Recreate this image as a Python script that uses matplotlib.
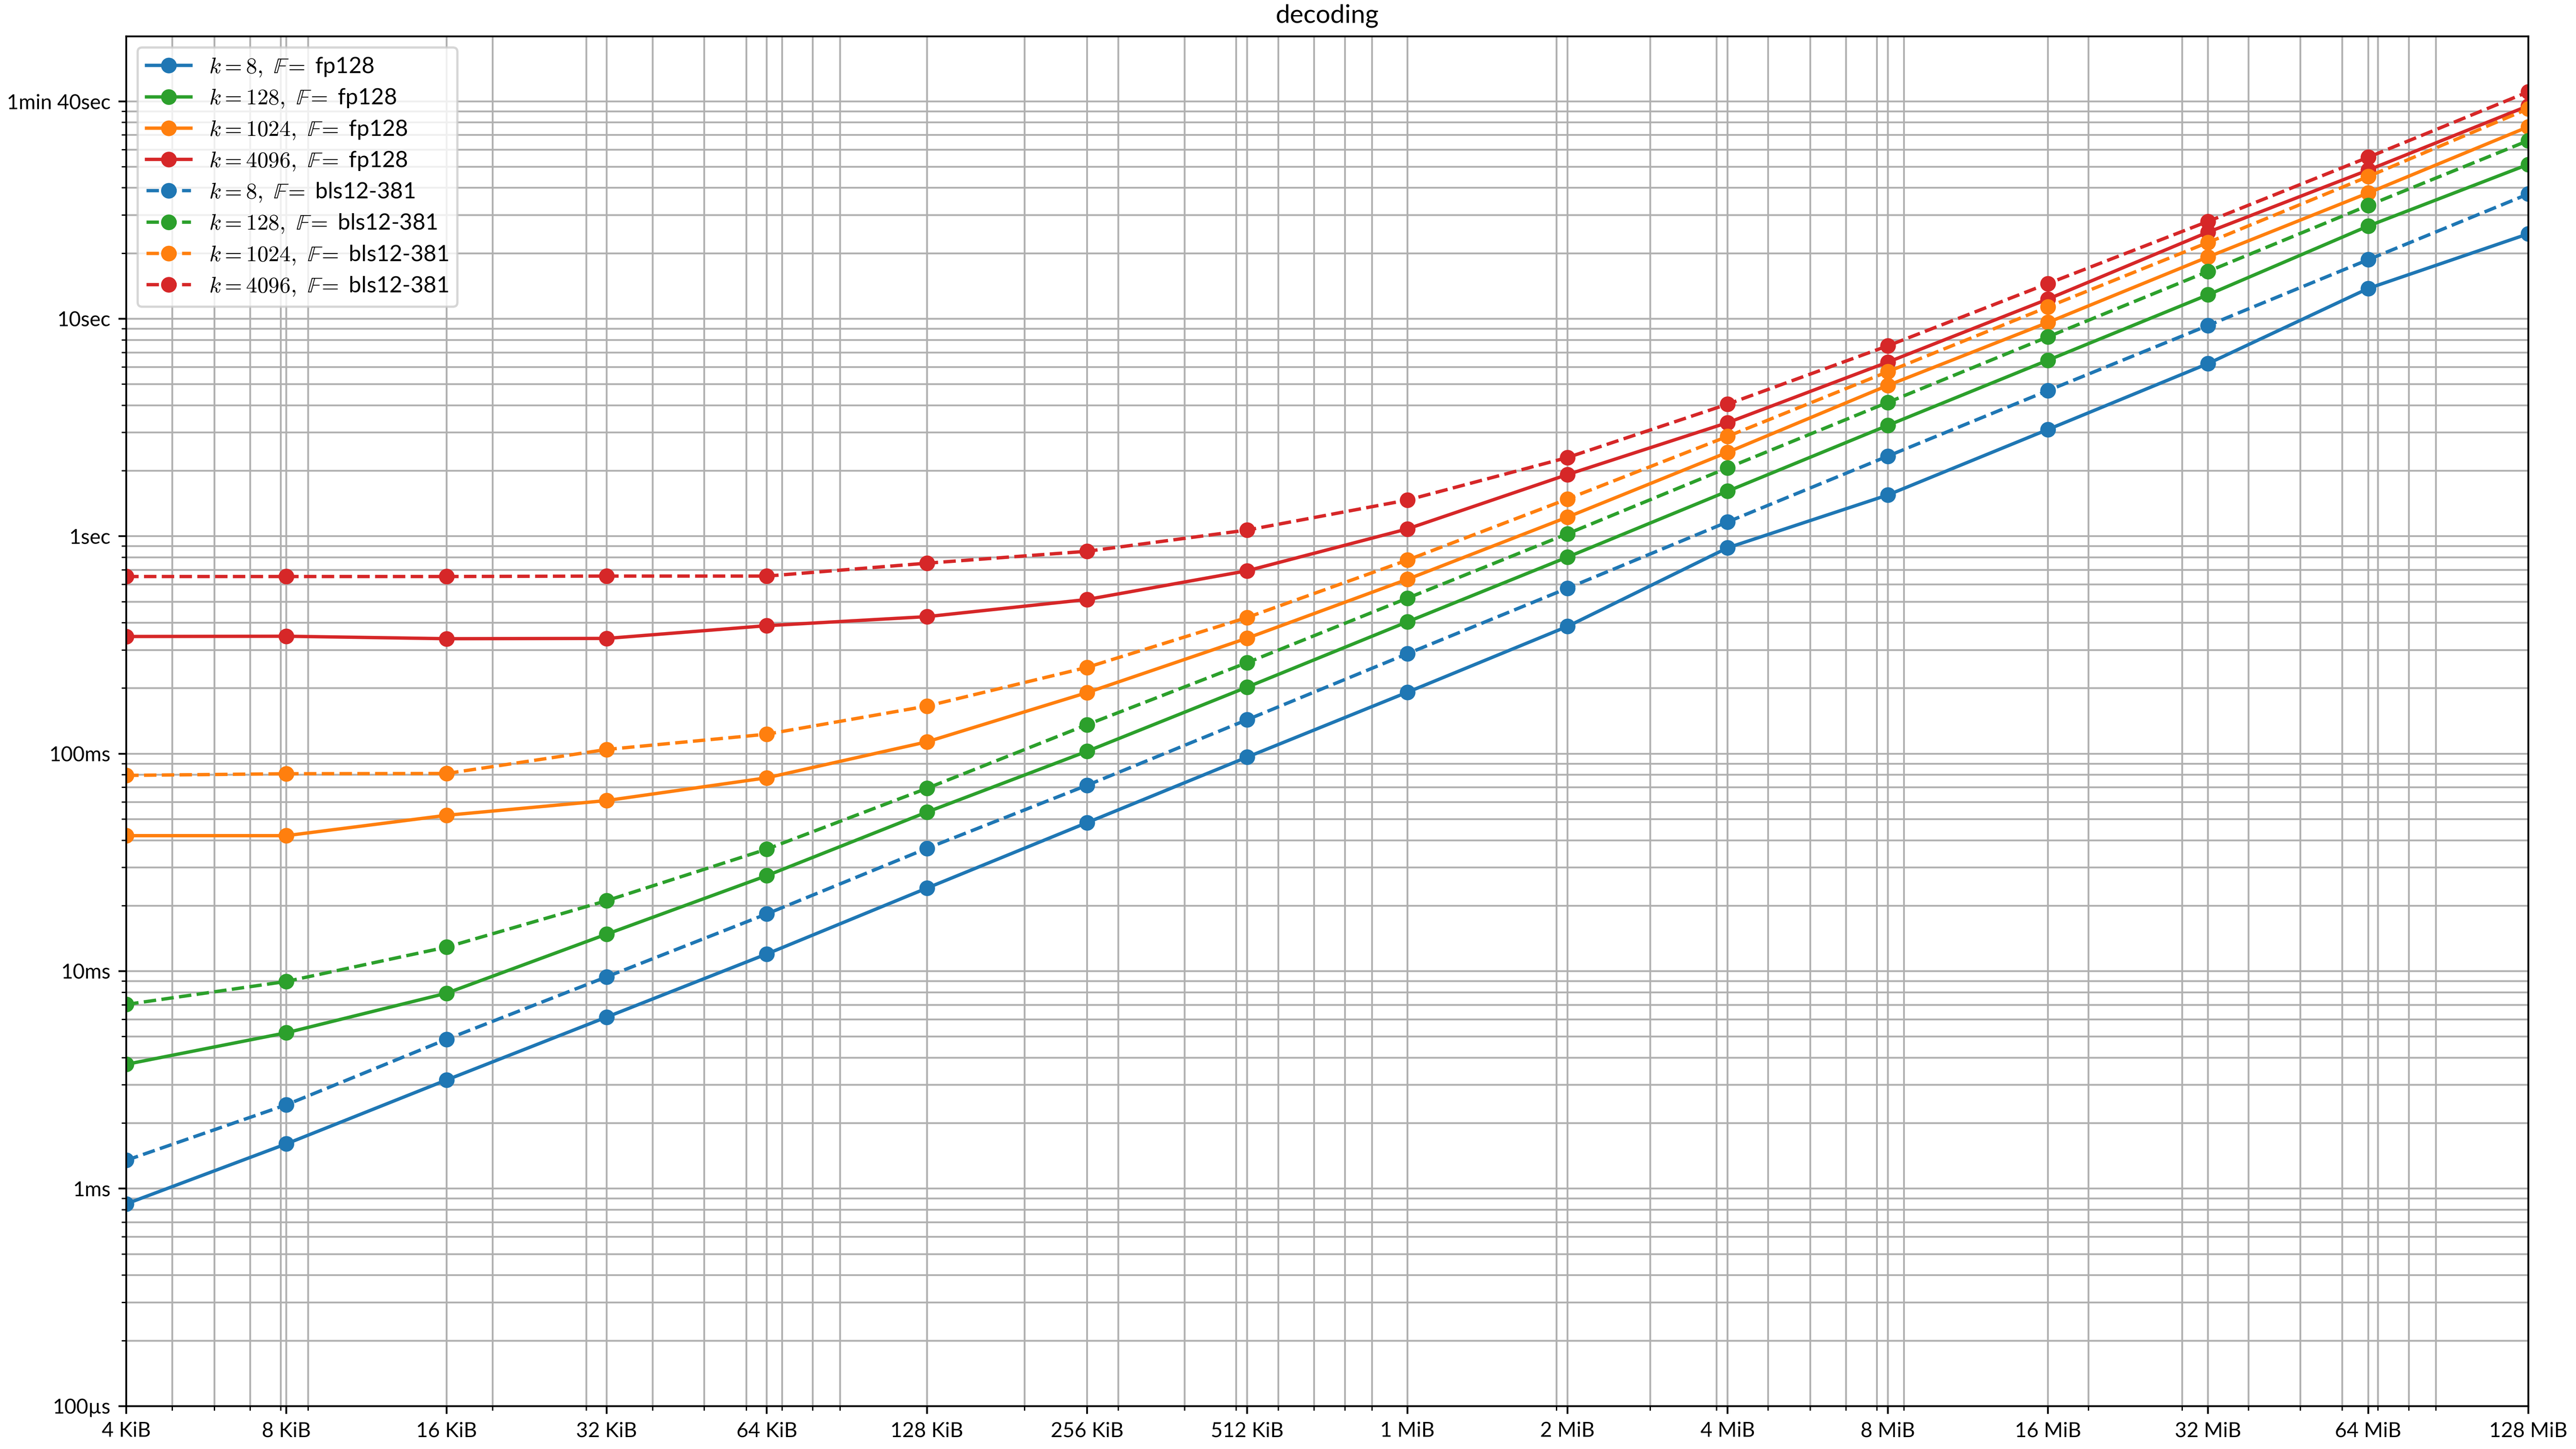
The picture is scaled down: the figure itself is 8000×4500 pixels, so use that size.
"""
decoding time vs. data size, log-log
"""
import matplotlib
matplotlib.use('Agg')
import matplotlib.pyplot as plt

plt.rcParams['font.family'] = ['Lato', 'DejaVu Sans']
plt.rcParams['mathtext.fontset'] = 'cm'
plt.rcParams['font.size'] = 10

# data sizes in bytes (4 KiB .. 128 MiB)
sizes = [4096, 8192, 16384, 32768, 65536, 131072, 262144, 524288,
         1048576, 2097152, 4194304, 8388608, 16777216, 33554432,
         67108864, 134217728]
size_labels = ['4 KiB', '8 KiB', '16 KiB', '32 KiB', '64 KiB', '128 KiB',
               '256 KiB', '512 KiB', '1 MiB', '2 MiB', '4 MiB', '8 MiB',
               '16 MiB', '32 MiB', '64 MiB', '128 MiB']

# decoding times in seconds, field fp128
fp128_k8 = [0.000851, 0.001607, 0.00316, 0.00615, 0.0120, 0.0241, 0.0482, 0.0965,
            0.1917, 0.385, 0.885, 1.548, 3.098, 6.225, 13.79, 24.6]
fp128_k128 = [0.00373, 0.00521, 0.00792, 0.0148, 0.0275, 0.0539, 0.1026, 0.2025,
              0.404, 0.802, 1.612, 3.235, 6.45, 12.9, 26.7, 51.3]
fp128_k1024 = [0.0420, 0.0420, 0.0521, 0.0609, 0.0775, 0.1134, 0.191, 0.340,
               0.634, 1.225, 2.433, 4.94, 9.62, 19.25, 37.9, 76.4]
fp128_k4096 = [0.346, 0.347, 0.338, 0.339, 0.388, 0.427, 0.512, 0.694,
               1.081, 1.922, 3.33, 6.32, 12.32, 25.04, 48.3, 95.4]

# decoding times in seconds, field bls12-381
bls_k8 = [0.00135, 0.00243, 0.00486, 0.00942, 0.01834, 0.0367, 0.0716, 0.1434,
          0.2883, 0.577, 1.164, 2.336, 4.676, 9.32, 18.7, 37.5]
bls_k128 = [0.00703, 0.00897, 0.0129, 0.0211, 0.0364, 0.0693, 0.136, 0.2624,
            0.519, 1.027, 2.064, 4.125, 8.26, 16.52, 33.2, 66.0]
bls_k1024 = [0.0795, 0.0809, 0.0811, 0.1046, 0.123, 0.1656, 0.2495, 0.4232,
             0.777, 1.484, 2.88, 5.71, 11.34, 22.44, 45.1, 92.5]
bls_k4096 = [0.653, 0.653, 0.653, 0.656, 0.656, 0.752, 0.853, 1.068,
             1.467, 2.302, 4.05, 7.51, 14.52, 28.05, 55.3, 110.6]

time_ticks = [1e-4, 1e-3, 1e-2, 1e-1, 1, 10, 100]
time_labels = ['100µs', '1ms', '10ms', '100ms', '1sec', '10sec', '1min 40sec']

ks = [8, 128, 1024, 4096]
colors = ['C0', 'C2', 'C1', 'C3']
fp128 = [fp128_k8, fp128_k128, fp128_k1024, fp128_k4096]
bls = [bls_k8, bls_k128, bls_k1024, bls_k4096]

fig, ax = plt.subplots(figsize=(16, 9), dpi=500)

for k, c, ys in zip(ks, colors, fp128):
    ax.plot(sizes, ys, '-o', color=c, label=r'$k = %d,\ \mathbb{F} = $ fp128' % k)
for k, c, ys in zip(ks, colors, bls):
    ax.plot(sizes, ys, '--o', color=c, label=r'$k = %d,\ \mathbb{F} = $ bls12-381' % k)

ax.set_xscale('log')
ax.set_yscale('log')
ax.set_xticks(sizes, size_labels)
ax.set_xlim(sizes[0], sizes[-1])
ax.set_ylim(bottom=1e-4)
ax.set_yticks(time_ticks, time_labels)
ax.tick_params(labelsize=9.2)  # Lato runs a bit wider than the original font
ax.grid(True, which='both')
ax.set_title('decoding', fontsize=11.5)
ax.legend(loc='upper left', labelspacing=0.42)

fig.subplots_adjust(left=0.049, right=0.9815, bottom=0.0296, top=0.975)
fig.savefig('out.png', dpi=500)
